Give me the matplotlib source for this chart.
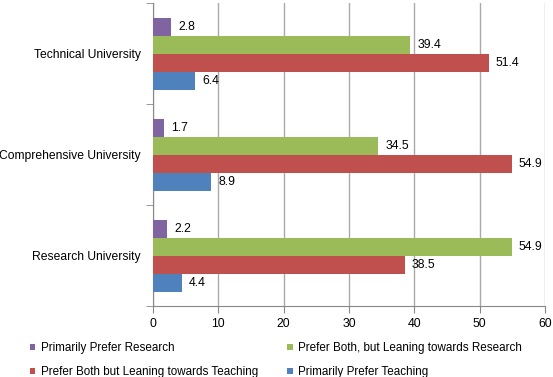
import numpy as np
import matplotlib.pyplot as plt

# categories bottom to top
universities = ['Research University', 'Comprehensive University', 'Technical University']
series_names = ['Primarily Prefer Research',
                'Prefer Both, but Leaning towards Research',
                'Prefer Both but Leaning towards Teaching',
                'Primarily Prefer Teaching']
prefer_research = [2.2, 1.7, 2.8]
both_research = [54.9, 34.5, 39.4]
both_teaching = [38.5, 54.9, 51.4]
prefer_teaching = [4.4, 8.9, 6.4]
colors = ['#8064A2', '#9BBB59', '#C0504D', '#4F81BD']

plt.rcParams['font.family'] = ['Liberation Sans', 'DejaVu Sans']

fig = plt.figure(figsize=(5.53, 3.77), dpi=100)
ax = fig.add_axes([0.2767, 0.188, 0.7088, 0.804])

y = np.arange(len(universities))
h = 0.178
offsets = [1.5 * h, 0.5 * h, -0.5 * h, -1.5 * h]
all_series = [prefer_research, both_research, both_teaching, prefer_teaching]

handles = []
for vals, off, col, name in zip(all_series, offsets, colors, series_names):
    bars = ax.barh(y + off, vals, height=h, color=col, label=name, zorder=3)
    handles.append(bars)
    for yy, v in zip(y + off, vals):
        ax.text(v + 1.1, yy, f'{v}', va='center', ha='left', fontsize=8.8)

ax.set_xlim(0, 60)
ax.set_ylim(-0.5, 2.5)
ax.set_xticks(range(0, 61, 10))
ax.set_yticks(y)
ax.set_yticklabels(universities, fontsize=8.7)
ax.tick_params(axis='y', length=0, pad=9)
ax.set_yticks([-0.5, 0.5, 1.5, 2.5], minor=True)
ax.tick_params(axis='y', which='minor', length=5, color='#888888')
ax.tick_params(axis='x', labelsize=8.8, length=5, color='#888888')
ax.grid(axis='x', color='#aaaaaa', linewidth=1, zorder=0)
for s in ['top', 'right']:
    ax.spines[s].set_visible(False)
for s in ['left', 'bottom']:
    ax.spines[s].set_color('#888888')

order = [0, 2, 1, 3]
fig.legend([handles[i] for i in order], [series_names[i] for i in order],
           ncol=2, loc='lower left', bbox_to_anchor=(0.035, -0.03),
           frameon=False, fontsize=8.4, handlelength=0.45, handleheight=0.45,
           handletextpad=0.5, columnspacing=2.5, labelspacing=1.0)

fig.savefig('out.png', dpi=100)
